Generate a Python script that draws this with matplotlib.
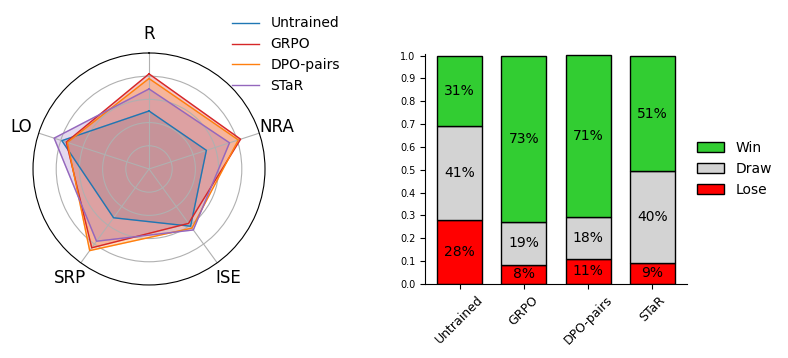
import numpy as np
import matplotlib
matplotlib.use("Agg")
import matplotlib.pyplot as plt

# Radar data
axes_labels = ["R", "NRA", "ISE", "SRP", "LO"]
series_names = ["Untrained", "GRPO", "DPO-pairs", "STaR"]
untrained = [0.50, 0.52, 0.61, 0.52, 0.79]
grpo = [0.82, 0.83, 0.58, 0.84, 0.75]
dpo_pairs = [0.78, 0.81, 0.63, 0.87, 0.74]
star = [0.69, 0.73, 0.65, 0.77, 0.86]
series_colors = ["#1f77b4", "#d62728", "#ff7f0e", "#9467bd"]

# Bar data
models = ["Untrained", "GRPO", "DPO-pairs", "STaR"]
lose = [0.281, 0.083, 0.110, 0.092]
draw = [0.409, 0.190, 0.184, 0.401]
win = [0.306, 0.726, 0.707, 0.506]

fig = plt.figure(figsize=(7.88, 3.58), dpi=100)

# ---- Radar ----
axr = fig.add_axes([0.0419, 0.204, 0.2944, 0.648], projection="polar")
n = len(axes_labels)
angles = np.linspace(0, 2 * np.pi, n, endpoint=False)
axr.set_theta_offset(np.pi / 2)
axr.set_theta_direction(-1)
for name, vals, col in zip(series_names, [untrained, grpo, dpo_pairs, star], series_colors):
    a = np.concatenate([angles, angles[:1]])
    v = np.concatenate([vals, vals[:1]])
    axr.plot(a, v, color=col, linewidth=1, label=name)
    axr.fill(a, v, color=col, alpha=0.25)
axr.set_ylim(0, 1)
axr.set_yticks([0.2, 0.4, 0.6, 0.8])
axr.set_yticklabels([])
axr.set_xticks(angles)
axr.set_xticklabels(axes_labels, fontsize=12)
axr.tick_params(axis="x", pad=3)
fig.legend(loc="upper left", bbox_to_anchor=(0.278, 0.989), frameon=False, fontsize=10,
           handles=axr.get_lines(), labels=series_names)

# ---- Stacked bars ----
axb = fig.add_axes([0.5395, 0.207, 0.332, 0.641])
x = np.arange(len(models))
w = 0.7
bottom_draw = np.array(lose)
bottom_win = np.array(lose) + np.array(draw)
axb.bar(x, lose, w, color="red", edgecolor="black", label="Lose")
axb.bar(x, draw, w, bottom=bottom_draw, color="lightgray", edgecolor="black", label="Draw")
axb.bar(x, win, w, bottom=bottom_win, color="limegreen", edgecolor="black", label="Win")
for i in range(len(models)):
    for val, b in [(lose[i], 0), (draw[i], bottom_draw[i]), (win[i], bottom_win[i])]:
        axb.text(x[i], b + val / 2, f"{round(val * 100)}%", ha="center", va="center", fontsize=10)
axb.set_ylim(0, 1.005)
axb.set_yticks(np.round(np.arange(0, 1.01, 0.1), 1))
axb.tick_params(axis="y", labelsize=7)
axb.set_xticks(x)
axb.set_xticklabels(models, rotation=45, fontsize=9)
axb.spines["top"].set_visible(False)
axb.spines["right"].set_visible(False)
h, l = axb.get_legend_handles_labels()
axb.legend(h[::-1], l[::-1], loc="center left", bbox_to_anchor=(0.99, 0.5), frameon=False, fontsize=10)

fig.savefig("out.png", dpi=100)
